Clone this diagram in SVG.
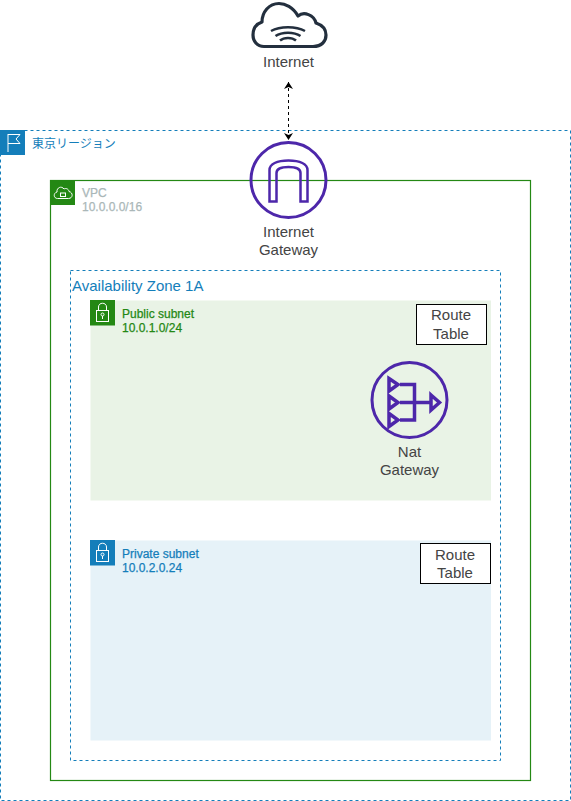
<svg xmlns="http://www.w3.org/2000/svg" width="571" height="801" viewBox="0 0 571 801">
<defs>
<style>
text{font-family:"Liberation Sans",Arial,"Noto Sans CJK JP",sans-serif;font-size:15px;fill:#444}
.m{text-anchor:middle}
.s{font-size:12px;stroke-width:.25px}
.blue{fill:#147eba}
.green{fill:#248814;stroke:#248814}
.sb{stroke:#147eba}
.grey{fill:#aab7b8;stroke:#aab7b8}
.dash{fill:none;stroke:#147eba;stroke-dasharray:3 3}
.ic{fill:none;stroke:#fff;stroke-width:1}
.pur{fill:none;stroke:#4d27aa;stroke-width:3}
.rt{fill:#fff;stroke:#000}
</style>
<marker id="a" viewBox="0 0 8 10" refX="7" refY="5" markerWidth="8" markerHeight="10" orient="auto-start-reverse" markerUnits="userSpaceOnUse"><path d="M0 0.5L7 5L0 9.500L2 5Z" fill="#000"/></marker>
</defs>
<rect width="571" height="801" fill="#fff"/>
<g id="region">
<rect class="dash" x="0.500" y="130.500" width="570" height="670"/>
<rect x="0" y="130" width="25" height="25" fill="#147eba"/>
<path class="ic" d="M8 134V152M8 134.500H20L16 139L20 143.500H8"/>
<text class="blue" x="32" y="148" style="font-size:12px">東京リージョン</text>
</g>
<g id="vpc">
<rect x="50.500" y="180.500" width="480" height="600" fill="none" stroke="#248814" stroke-width="1.200"/>
<rect x="50" y="180" width="25" height="25" fill="#248814"/>
<path class="ic" d="M57.500 198.500H68.500C73 198.500 73.500 192.500 69 191.500C68.500 188.500 65.500 188 64 189C61.500 185.500 56.500 187.500 57 192C53 193 53.500 198.500 57.500 198.500Z"/>
<rect class="ic" x="60.500" y="193" width="5" height="3.500"/>
<text class="s grey" x="82" y="197">VPC</text>
<text class="s grey" x="82" y="211">10.0.0.0/16</text>
</g>
<g id="az">
<rect class="dash" x="70.500" y="270.500" width="430" height="490"/>
<text class="blue" x="72" y="291">Availability Zone 1A</text>
</g>
<g id="public-subnet">
<rect x="90.500" y="300.500" width="400.500" height="200" fill="#e9f3e6"/>
<rect x="90" y="300" width="25" height="25.500" fill="#248814"/>
<rect class="ic" x="96.500" y="310.500" width="12" height="11"/>
<path class="ic" d="M98.500 310.500V307C98.500 302 106.500 302 106.500 307V310.500"/>
<circle class="ic" cx="102.500" cy="314.500" r="1.500"/><path class="ic" d="M102.500 316V319"/>
<text class="s green" x="122" y="318">Public subnet</text>
<text class="s green" x="122" y="332">10.0.1.0/24</text>
</g>
<g id="private-subnet">
<rect x="90.500" y="540.500" width="400.500" height="200" fill="#e6f2f8"/>
<rect x="90" y="540" width="25" height="25.500" fill="#147eba"/>
<rect class="ic" x="96.500" y="550.500" width="12" height="11"/>
<path class="ic" d="M98.500 550.500V547C98.500 542 106.500 542 106.500 547V550.500"/>
<circle class="ic" cx="102.500" cy="554.500" r="1.500"/><path class="ic" d="M102.500 556V559"/>
<text class="s blue sb" x="122" y="558">Private subnet</text>
<text class="s blue sb" x="122" y="572">10.0.2.0.24</text>
</g>
<g id="connectors">
<path d="M288.500 82V140" fill="none" stroke="#000" stroke-dasharray="3 3" marker-start="url(#a)" marker-end="url(#a)"/>
</g>
<g id="internet">
<path d="M264 46.500H313C322 46.500 326 41 326 35C326 29 322 25 316 23C314 15 304 11 298 16C293 7 285 3.500 279 3.500C269 3.500 262 12 262 22C256 24 253 29 253 35C253 41 257 46.500 264 46.500Z" fill="none" stroke="#232f3e" stroke-width="3.200" stroke-linejoin="round"/>
<path d="M271 31C280 26 296 26 305 31M275.500 36C282 31.500 294 31.500 300.500 36M280 40.500C284 37 292 37 296 40.500" fill="none" stroke="#232f3e" stroke-width="2.500"/>
<text class="m" x="288.500" y="67">Internet</text>
</g>
<g id="igw">
<circle class="pur" cx="288.500" cy="180" r="37.500"/>
<path class="pur" style="stroke-width:2.500" d="M269.500 201.500V170C269.500 164 277 160.500 288.500 160.500C300 160.500 307.500 164 307.500 170V201.500H300.500V173C300.500 169 296 167 288.500 167C281 167 276.500 169 276.500 173V201.500Z"/>
<text class="m" x="288.500" y="237">Internet</text>
<text class="m" x="288.500" y="255">Gateway</text>
</g>
<g id="nat">
<circle class="pur" cx="409.500" cy="400" r="37.500"/>
<path class="pur" style="stroke-width:3.500" d="M389 378.500L398 384.500L389 391ZM389 396L398 402.500L389 409ZM389 413.500L398 420L389 426.500Z"/>
<path class="pur" style="stroke-width:3.500" d="M400 384.500H414.500V420H400M400 402.500H431"/>
<path class="pur" style="stroke-width:3.500" d="M431 395L439.500 402.500L431 410Z"/>
<text class="m" x="409.500" y="457">Nat</text>
<text class="m" x="409.500" y="475">Gateway</text>
</g>
<g id="route-table-public">
<rect class="rt" x="416.500" y="304.500" width="70" height="40"/>
<text class="m" x="451" y="320">Route</text>
<text class="m" x="451" y="339">Table</text>
</g>
<g id="route-table-private">
<rect class="rt" x="420.500" y="543.500" width="70" height="40"/>
<text class="m" x="455" y="560">Route</text>
<text class="m" x="455" y="578">Table</text>
</g>
</svg>
